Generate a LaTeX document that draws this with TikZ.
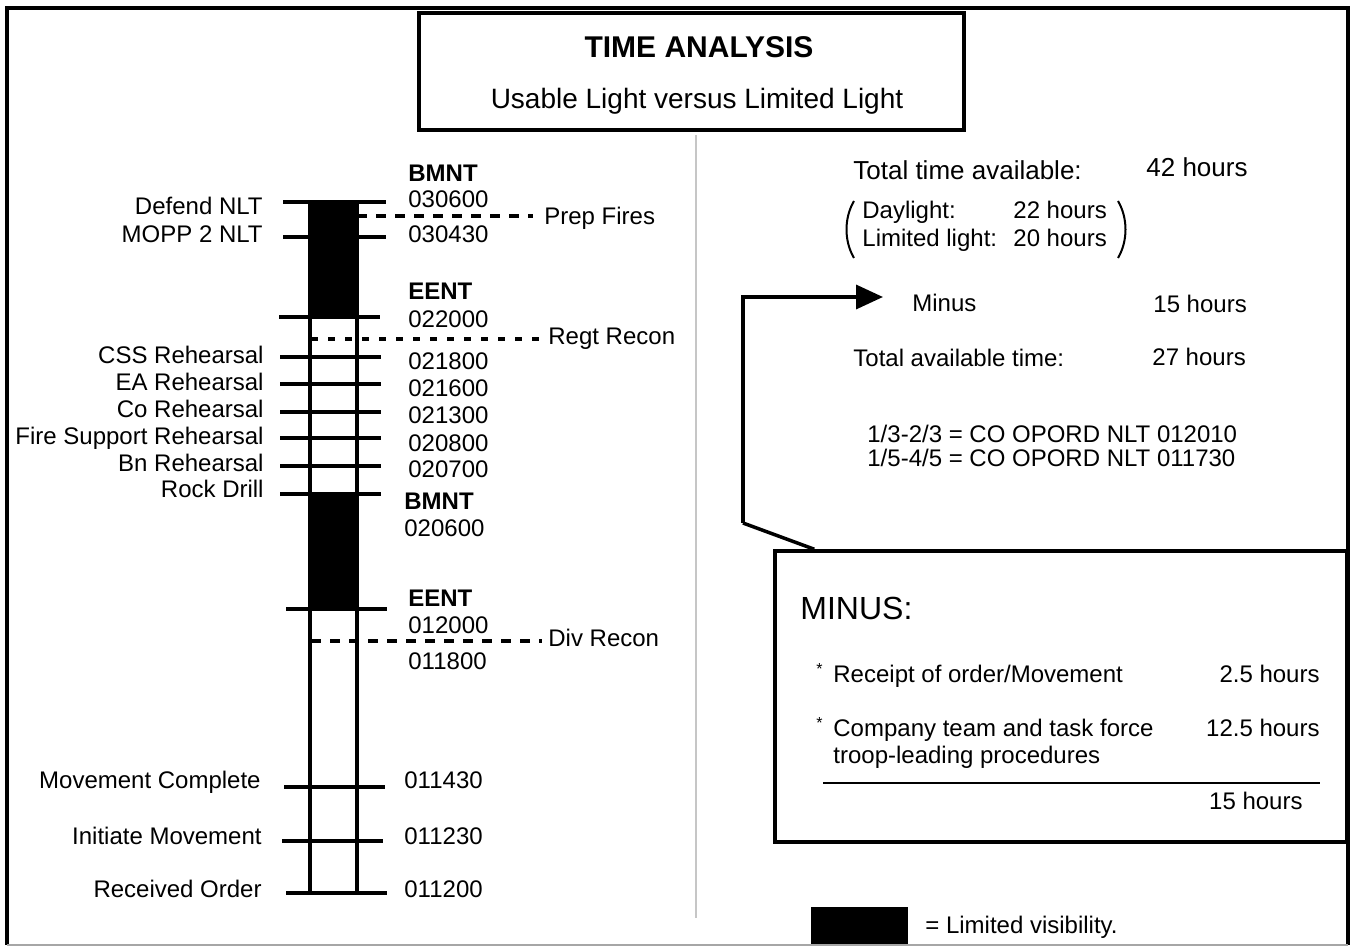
\documentclass[tikz,border=0pt]{standalone}
\usepackage{fontspec}
\setmainfont{Liberation Sans}
\usetikzlibrary{arrows.meta,calc}
\begin{document}
\begin{tikzpicture}[x=0.5pt,y=-0.5pt,
  lbl/.style={inner sep=0pt,font=\fontsize{12}{14}\selectfont},
  lblL/.style={lbl,anchor=base east},
  lblR/.style={lbl,anchor=base west},
  lblB/.style={lblR,font=\fontsize{12}{14}\selectfont\bfseries},
  paren/.style={lblR,font=\fontsize{12}{14}\selectfont},
  star/.style={inner sep=0pt,anchor=base west,font=\fontsize{8}{10}\selectfont},
  tick/.style={line width=1.75pt},
  barline/.style={line width=1.6pt},
  dashA/.style={line width=1.75pt,dash pattern=on 5pt off 4.5pt},
  dotA/.style={line width=2pt,dash pattern=on 3.5pt off 5pt},
  box/.style={draw,line width=1.75pt},
  arr/.style={line width=1.75pt,-{Triangle[length=13.5pt,width=12pt]}}
]
\useasboundingbox (0,0) rectangle (1351,946);
\fill[white] (0,0) rectangle (1351,946);
% outer frame
\draw[line width=2pt] (7,945) -- (7,8.5) -- (1348,8.5) -- (1348,945);
\draw[gray!70,line width=0.8pt] (7,945) -- (1348,945);
% title box
\node[box,minimum width=272.5pt,minimum height=58.5pt,inner sep=0pt] (title) at (691.5,71.5) {};
\node[inner sep=0pt,anchor=base,font=\fontsize{15}{17}\selectfont\bfseries] (t1) at (699,58) {TIME ANALYSIS};
\node[inner sep=0pt,anchor=base,font=\fontsize{14}{16}\selectfont] (t2) at (697,109) {Usable Light versus Limited Light};
% divider
\draw[gray!45,line width=0.8pt] (696,135) -- (696,918);
% bar fills
\fill (310,202) rectangle (357,317);
\fill (310,494) rectangle (357,609);
\draw[barline] (310,202) -- (310,893);
\draw[barline] (357,202) -- (357,893);
% ticks
\foreach \y/\a/\b in {202/283/386,237/283/386,317/279/380,357/280/381,384/280/381,412/280/381,438/280/381,466/280/381,494/280/381,609/286/387,787/284/385,841/282/383,893/286/387}
  \draw[tick] (\a,\y) -- (\b,\y);
% dashed lines
\draw[dashA] (357,216) -- (533,216);
\draw[dotA] (311,339) -- (542,339);
\draw[dashA] (311,641) -- (542,641);
% left labels
\node[lblL] (l1) at (263,215) {Defend NLT};
\node[lblL] (l2) at (263,243) {MOPP 2 NLT};
\node[lblL] (l3) at (264,364) {CSS Rehearsal};
\node[lblL] (l4) at (264,391) {EA Rehearsal};
\node[lblL] (l5) at (264,418) {Co Rehearsal};
\node[lblL] (l6) at (264,445) {Fire Support Rehearsal};
\node[lblL] (l7) at (264,472) {Bn Rehearsal};
\node[lblL] (l8) at (264,498) {Rock Drill};
\node[lblL] (l9) at (261,789) {Movement Complete};
\node[lblL] (l10) at (262,844) {Initiate Movement};
\node[lblL] (l11) at (262,897) {Received Order};
% right labels
\node[lblB] (r1) at (408,182) {BMNT};
\node[lblR] (r2) at (408,208) {030600};
\node[lblR] (r3) at (408,243) {030430};
\node[lblB] (r4) at (408,300) {EENT};
\node[lblR] (r5) at (408,328) {022000};
\node[lblR] (r6) at (408,370) {021800};
\node[lblR] (r7) at (408,397) {021600};
\node[lblR] (r8) at (408,424) {021300};
\node[lblR] (r9) at (408,452) {020800};
\node[lblR] (r10) at (408,478) {020700};
\node[lblB] (r11) at (404,510) {BMNT};
\node[lblR] (r12) at (404,537) {020600};
\node[lblB] (r13) at (408,607) {EENT};
\node[lblR] (r14) at (408,634) {012000};
\node[lblR] (r15) at (408,670) {011800};
\node[lblR] (r16) at (404,789) {011430};
\node[lblR] (r17) at (404,844) {011230};
\node[lblR] (r18) at (404,897) {011200};
% dashed labels
\node[lblR] (d1) at (544,225) {Prep Fires};
\node[lblR] (d2) at (548,345) {Regt Recon};
\node[lblR] (d3) at (548,647) {Div Recon};
% right top
\node[lblR,font=\fontsize{13}{15}\selectfont] (tt) at (853,180) {Total time available:};
\node[lblR,font=\fontsize{13}{15}\selectfont] (tt2) at (1146,177) {42 hours};
\node[paren] (dl) at (862,219) {Daylight:};
\node[paren] (dl2) at (1013,219) {22 hours};
\node[paren] (ll) at (862,247) {Limited light:};
\node[paren] (ll2) at (1013,247) {20 hours};
\draw[line width=1pt] (854,201) .. controls (844,218) and (844,241) .. (854,258);
\draw[line width=1pt] (1118,201) .. controls (1128,218) and (1128,241) .. (1118,258);
\node[lblR] (minus) at (912,312) {Minus};
\node[lblR] (m2) at (1153,313) {15 hours};
\node[lblR] (ta) at (853,367) {Total available time:};
\node[lblR] (ta2) at (1152,366) {27 hours};
\node[lblR] (o1) at (867,443) {1/3-2/3 = CO OPORD NLT 012010};
\node[lblR] (o2) at (867,467) {1/5-4/5 = CO OPORD NLT 011730};
% minus box
\node[box,minimum width=286pt,minimum height=145.5pt,inner sep=0pt] (mbox) at (1061,696.5) {};
\node[lblR,font=\fontsize{16}{18}\selectfont] (mt) at (800,620) {MINUS:};
\node[star] (b1) at (816,675) {*};
\node[lblR] (i1) at (833,683) {Receipt of order/Movement};
\node[lbl,anchor=base east] (h1) at (1320,683) {2.5 hours};
\node[star] (b2) at (816,729) {*};
\node[lblR] (i2) at (833,737) {Company team and task force};
\node[lblR] (i3) at (833,763) {troop-leading procedures};
\node[lbl,anchor=base east] (h2) at (1320,737) {12.5 hours};
\draw[line width=1.3pt] (823,783) -- (1320,783);
\node[lbl,anchor=base east] (h3) at (1303,809) {15 hours};
% arrow
\coordinate (c1) at (743,523);
\coordinate (c2) at (743,297);
\coordinate (tip) at (883,297);
\draw[line width=1.75pt] ($(mbox.north west)+(41,0)$) -- (c1);
\draw[arr] (c1) -- (c2) -- (tip);
% legend
\fill (811,907) rectangle (908,944);
\node[lblR] (leg) at (925,933) {= Limited visibility.};
\end{tikzpicture}
\end{document}
